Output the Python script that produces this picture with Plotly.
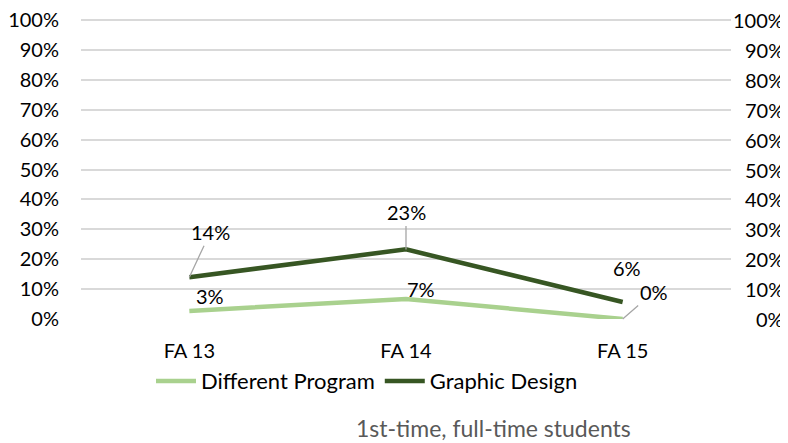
import plotly.graph_objects as go

categories = ["FA 13", "FA 14", "FA 15"]
different_program = [0.027, 0.067, 0.0]
graphic_design = [0.14, 0.233, 0.057]
tick_vals = [i / 10 for i in range(11)]
tick_text = [f"{i * 10}%" for i in range(11)]
caption = "1st-time, full-time students"

FONT = "Lato"
LIGHT = "#a9d18e"
DARK = "#375623"
GRID = "#d9d9d9"
LEADER = "#a6a6a6"

fig = go.Figure()
fig.add_trace(go.Scatter(x=categories, y=different_program, mode="lines",
                         name="Different Program",
                         line=dict(color=LIGHT, width=4.5)))
fig.add_trace(go.Scatter(x=categories, y=graphic_design, mode="lines",
                         name="Graphic Design",
                         line=dict(color=DARK, width=4.5)))

# label placement (style): per series, per point
dp_style = [dict(xshift=21, yshift=15), dict(xshift=15, yshift=10),
            dict(arrow=(31, -27))]
gd_style = [dict(arrow=(21, -45)), dict(arrow=(0, -37)),
            dict(xshift=4, yshift=34)]

annotations = []
for series, styles in ((different_program, dp_style), (graphic_design, gd_style)):
    for cat, v, st in zip(categories, series, styles):
        txt = f"{round(v * 100)}%"
        base = dict(x=cat, y=v, xref="x", yref="y", text=txt,
                    font=dict(family=FONT, size=20, color="#000000"))
        if "arrow" in st:
            ax, ay = st["arrow"]
            base.update(showarrow=True, arrowhead=0, arrowwidth=1.3,
                        arrowcolor=LEADER, ax=ax, ay=ay)
        else:
            base.update(showarrow=False, xshift=st["xshift"], yshift=st["yshift"])
        annotations.append(base)

# secondary (right) value axis labels, right-aligned
for tv, tt in zip(tick_vals, tick_text):
    annotations.append(dict(text=tt, xref="paper", yref="y", x=1.0846, y=tv,
                            xanchor="right", yanchor="middle", showarrow=False,
                            font=dict(family=FONT, size=20, color="#000000")))

annotations.append(dict(text=caption, xref="paper", yref="paper",
                        x=0.635, y=-0.362, xanchor="center", yanchor="middle",
                        showarrow=False,
                        font=dict(family=FONT, size=23, color="#595959")))

# page body has an 8px margin, so the figure is sized/offset to fit the window
fig.update_layout(
    width=780, height=435,
    margin=dict(l=73, r=57, t=11, b=124),
    paper_bgcolor="white", plot_bgcolor="white",
    font=dict(family=FONT, size=20, color="#000000"),
    showlegend=True,
    legend=dict(orientation="h", x=0.44, xanchor="center", y=-0.207,
                yanchor="middle", font=dict(family=FONT, size=22),
                itemwidth=40, tracegroupgap=0),
    annotations=annotations,
    xaxis=dict(type="category", range=[-0.5, 2.5], showgrid=False,
               showline=False, zeroline=False, ticks="", automargin=False,
               ticklabelstandoff=18, ticklabeloverflow="allow",
               tickfont=dict(family=FONT, size=20)),
    yaxis=dict(range=[0, 1.004], tickvals=tick_vals, ticktext=tick_text,
               showgrid=True, gridcolor=GRID, gridwidth=1.5, automargin=False,
               zeroline=False, showline=False, ticks="", ticklabelstandoff=21,
               ticklabeloverflow="allow",
               tickfont=dict(family=FONT, size=20)),
)

fig.write_html("out.html")
